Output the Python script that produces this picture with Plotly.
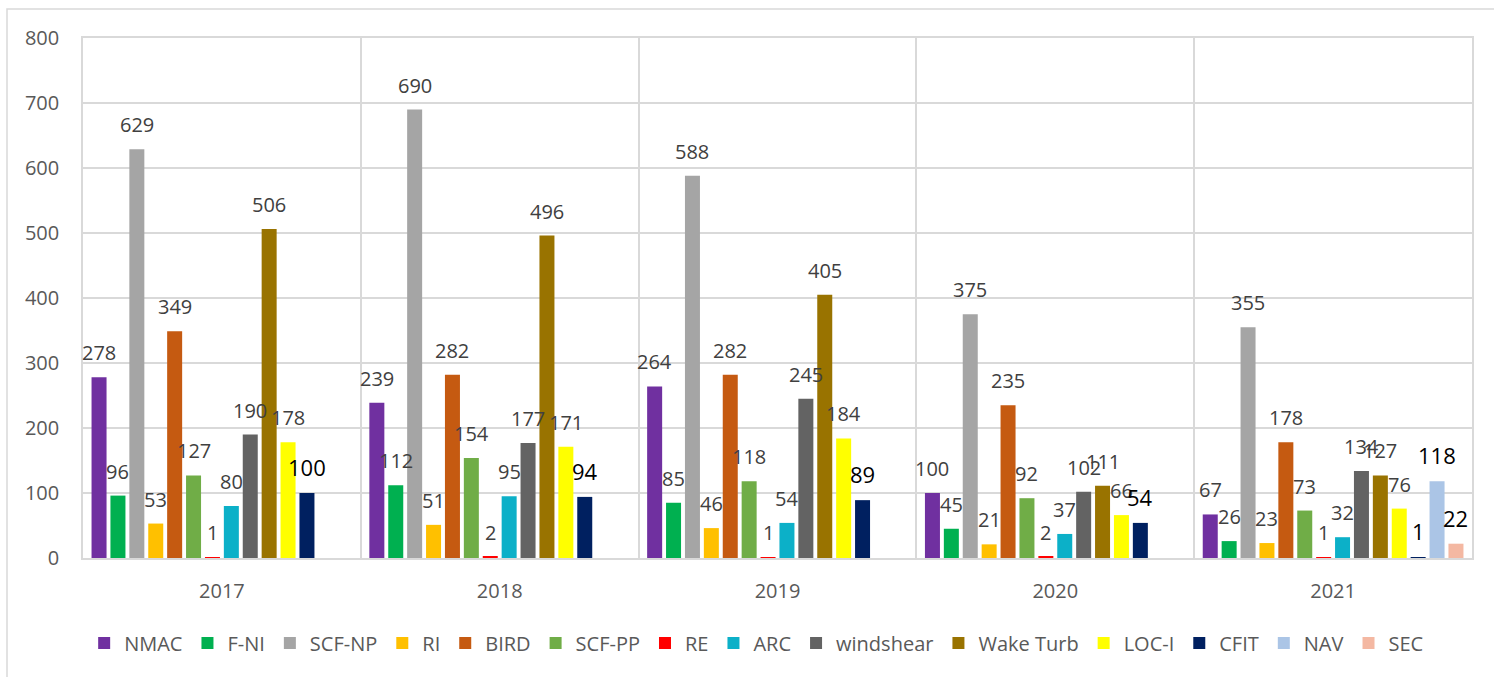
import plotly.graph_objects as go

years = ["2017", "2018", "2019", "2020", "2021"]

series_names = ["NMAC", "F-NI", "SCF-NP", "RI", "BIRD", "SCF-PP", "RE", "ARC",
                "windshear", "Wake Turb", "LOC-I", "CFIT", "NAV", "SEC"]

nmac = [278, 239, 264, 100, 67]
f_ni = [96, 112, 85, 45, 26]
scf_np = [629, 690, 588, 375, 355]
ri = [53, 51, 46, 21, 23]
bird = [349, 282, 282, 235, 178]
scf_pp = [127, 154, 118, 92, 73]
re_ = [1, 2, 1, 2, 1]
arc = [80, 95, 54, 37, 32]
windshear = [190, 177, 245, 102, 134]
wake_turb = [506, 496, 405, 111, 127]
loc_i = [178, 171, 184, 66, 76]
cfit = [100, 94, 89, 54, 1]
nav = [None, None, None, None, 118]
sec = [None, None, None, None, 22]

series_values = [nmac, f_ni, scf_np, ri, bird, scf_pp, re_, arc,
                 windshear, wake_turb, loc_i, cfit, nav, sec]

colors = ["#7030A0", "#00B050", "#A5A5A5", "#FFC000", "#C55A11", "#70AD47",
          "#FF0000", "#0CB0C8", "#636363", "#997300", "#FFFF00", "#002060",
          "#ABC5E6", "#F4B8A2"]

big_labels = {"CFIT", "NAV", "SEC"}

W, H = 1494, 677
ML, MR, MT, MB = 83, 22, 38, 119
BARGAP = 0.0475
BARGROUPGAP = 0.206
FONT = "Open Sans"
GRID = "#D9D9D9"

fig = go.Figure()
for name, vals, col in zip(series_names, series_values, colors):
    fig.add_trace(go.Bar(
        name=name, x=years, y=vals,
        marker=dict(color=col, line=dict(width=0)),
        hoverinfo="x+y+name",
    ))

# data labels above bars, positioned from the group geometry
plot_w = W - ML - MR
group_px = plot_w / len(years)
slot_px = group_px * (1 - BARGAP) / len(series_names)
n = len(series_names)
annotations = []
for i, (name, vals) in enumerate(zip(series_names, series_values)):
    big = name in big_labels
    for j, v in enumerate(vals):
        if v is None:
            continue
        annotations.append(dict(
            x=j, y=v, xref="x", yref="y", text=str(v), showarrow=False,
            xanchor="center", yanchor="bottom",
            xshift=(i - (n - 1) / 2) * slot_px, yshift=9,
            font=dict(family=FONT, size=22 if big else 20,
                      color="#000000" if big else "#404040"),
        ))

py0 = H - MB
plot_h = H - MT - MB
fig.update_layout(
    width=W, height=H, autosize=False,
    margin=dict(l=ML, r=MR, t=MT, b=MB, autoexpand=False),
    paper_bgcolor="white", plot_bgcolor="white",
    barmode="group", bargap=BARGAP, bargroupgap=BARGROUPGAP,
    font=dict(family=FONT, size=20, color="#595959"),
    annotations=annotations,
    showlegend=True,
    legend=dict(orientation="h", x=0.485, xanchor="center",
                y=-(643 - py0) / plot_h, yanchor="middle",
                font=dict(family=FONT, size=20, color="#595959"),
                itemclick=False, traceorder="normal"),
    shapes=[dict(type="rect", xref="paper", yref="paper",
                 x0=(7 - ML) / plot_w, x1=(W + 10 - ML) / plot_w,
                 y0=-(H + 10 - py0) / plot_h, y1=(py0 - 9) / plot_h,
                 line=dict(color=GRID, width=1.5), layer="below")],
)
fig.update_xaxes(
    type="category", range=[-0.5, len(years) - 0.5], autorange=False,
    tickson="boundaries", ticks="", showgrid=True, automargin=False,
    gridcolor=GRID, gridwidth=1.6, showline=True, mirror=True,
    linecolor=GRID, linewidth=1.6,
    tickfont=dict(family=FONT, size=20, color="#595959"),
    ticklabelstandoff=14,
)
fig.update_yaxes(
    range=[0, 800], autorange=False, dtick=100, showgrid=True, automargin=False,
    gridcolor=GRID, gridwidth=1.6,
    zeroline=False, showline=True, mirror=True, linecolor=GRID, linewidth=1.6,
    ticks="", tickfont=dict(family=FONT, size=20, color="#595959"),
    ticklabelstandoff=18,
)

fig.write_html("out.html",
               config={"displayModeBar": False},
               post_script="document.body.style.margin='0';"
                           "document.body.style.overflow='hidden';")
